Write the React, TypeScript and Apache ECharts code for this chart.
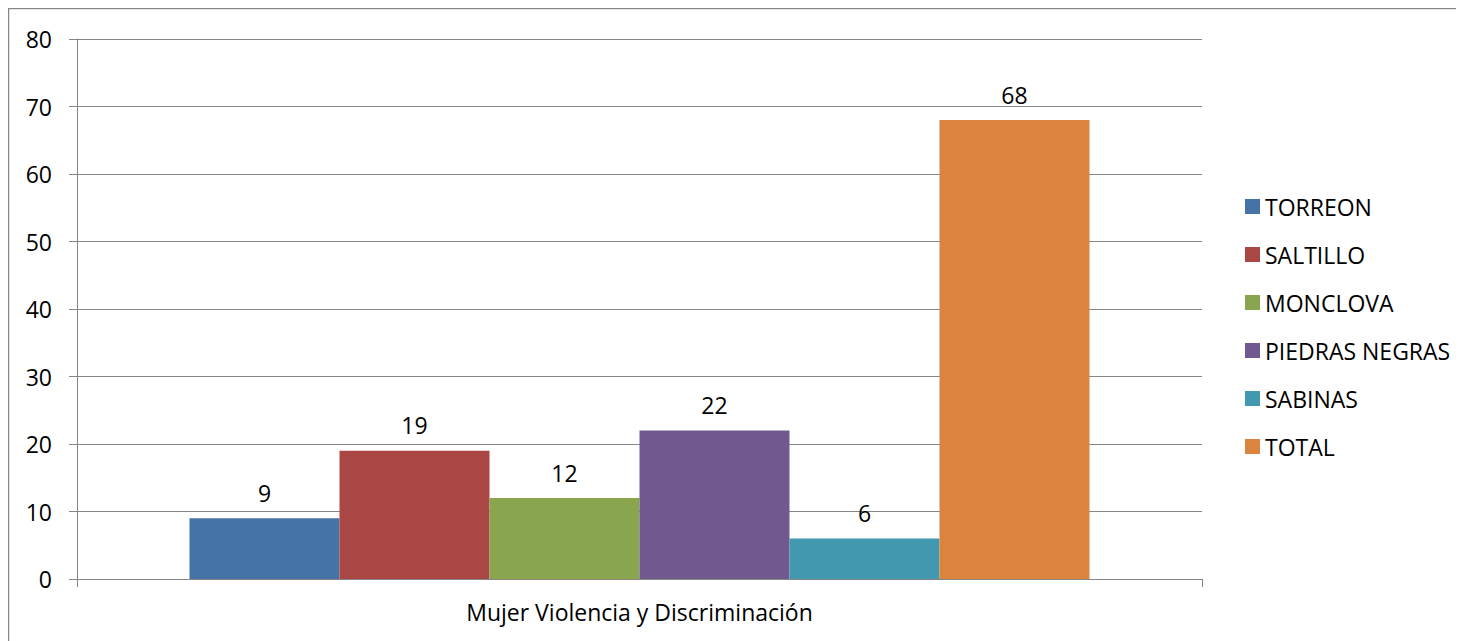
import React, { useEffect, useRef } from "react";
import * as echarts from "echarts";

const categories = ["Mujer Violencia y Discriminación"];
const seriesNames = ["TORREON", "SALTILLO", "MONCLOVA", "PIEDRAS NEGRAS", "SABINAS", "TOTAL"];
const seriesValues = [9, 19, 12, 22, 6, 68];
const seriesColors = ["#4572A7", "#AA4643", "#89A54E", "#71588F", "#4198AF", "#DB843D"];
const yTicks = { min: 0, max: 80, interval: 10 };

const FONT = "'Open Sans', Lato, sans-serif";
const FS = 23;

export default function App() {
  const ref = useRef<HTMLDivElement>(null);
  useEffect(() => {
    if (!ref.current) return;
    const chart = echarts.init(ref.current, undefined, { renderer: "svg" });
    chart.setOption({
      animation: false,
      textStyle: { fontFamily: FONT },
      grid: { left: 69, right: 262, top: 31, bottom: 62 },
      legend: {
        orient: "vertical",
        left: 1232,
        top: 182,
        itemWidth: 15,
        itemHeight: 15,
        itemGap: 25,
        icon: "rect",
        textStyle: { fontSize: FS, color: "#000", fontFamily: FONT },
        data: seriesNames,
      },
      xAxis: {
        type: "category",
        data: categories,
        axisLine: { lineStyle: { color: "#868686", width: 1 } },
        axisTick: { show: true, length: 8, lineStyle: { color: "#868686" } },
        axisLabel: { fontSize: FS, color: "#000", margin: 21, fontFamily: FONT },
      },
      yAxis: {
        type: "value",
        min: yTicks.min,
        max: yTicks.max,
        interval: yTicks.interval,
        axisLine: { show: true, lineStyle: { color: "#868686", width: 1 } },
        axisTick: { show: true, length: 8, lineStyle: { color: "#868686" } },
        axisLabel: { fontSize: FS, color: "#000", margin: 25, fontFamily: FONT },
        splitLine: { lineStyle: { color: "#868686", width: 1 } },
      },
      graphic: [
        {
          type: "rect",
          shape: { x: 0.5, y: 0.5, width: 1500, height: 700 },
          style: { fill: "none", stroke: "#868686", lineWidth: 1.5 },
          silent: true,
        },
      ],
      series: seriesNames.map((name, i) => ({
        name,
        type: "bar",
        barGap: "0%",
        barCategoryGap: "20%",
        itemStyle: { color: seriesColors[i] },
        label: {
          show: true,
          position: "top",
          distance: 14,
          fontSize: FS,
          color: "#000",
          fontFamily: FONT,
        },
        data: [seriesValues[i]],
      })),
    });
    return () => chart.dispose();
  }, []);
  return <div ref={ref} style={{ width: 1456, height: 633 }} />;
}
